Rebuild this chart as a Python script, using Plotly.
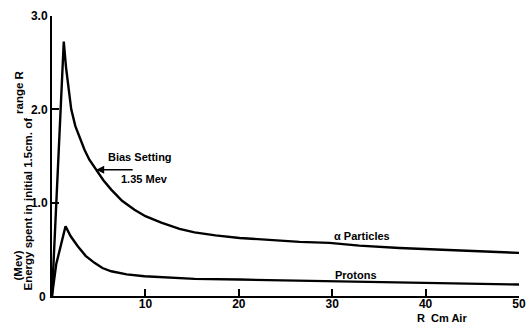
import plotly.graph_objects as go

# ---- data ----
alpha_x = [0, 1.26, 1.5, 1.75, 2.06, 2.5, 3.0, 3.48, 4.0, 4.73, 5.5, 6.34, 7.5, 8.83,
           10.0, 11.7, 13.65, 15.26, 17.5, 20.07, 23.0, 26.5, 29.7, 32.9, 37.2, 40.7, 44.7, 50]
alpha_y = [0, 2.725, 2.45, 2.22, 2.0, 1.82, 1.68, 1.567, 1.46, 1.353, 1.24, 1.14, 1.02, 0.925,
           0.855, 0.786, 0.719, 0.682, 0.65, 0.622, 0.60, 0.58, 0.569, 0.54, 0.515, 0.50, 0.479, 0.462]

proton_x = [0, 0.45, 1.45, 2.0, 2.76, 3.6, 4.55, 5.4, 6.34, 8.0, 9.9, 11.7, 13.65, 15.26,
            20.07, 26.5, 29.7, 35.0, 40.7, 44.7, 50]
proton_y = [0, 0.34, 0.747, 0.64, 0.533, 0.43, 0.355, 0.30, 0.265, 0.232, 0.212, 0.202, 0.195, 0.184,
            0.176, 0.166, 0.158, 0.15, 0.141, 0.138, 0.123]

x_ticks = [10, 20, 30, 40, 50]
x_tick_labels = ["10", "20", "30", "40", "50"]
y_ticks = [1, 2, 3]
y_tick_labels = ["1.0", "2.0", "3.0"]

bias_x = 4.73
bias_y = 1.353

FONT = "Liberation Sans"

fig = go.Figure()
fig.add_trace(go.Scatter(x=alpha_x, y=alpha_y, mode="lines",
                         line=dict(color="black", width=2.4), showlegend=False, hoverinfo="skip"))
fig.add_trace(go.Scatter(x=proton_x, y=proton_y, mode="lines",
                         line=dict(color="black", width=2.4), showlegend=False, hoverinfo="skip"))

tickfont = dict(family=FONT, size=12, color="black", weight="bold")
labfont = dict(family=FONT, size=11, color="black", weight="bold")

fig.update_layout(
    width=526, height=324,
    margin=dict(l=52, r=7, t=16, b=28, autoexpand=False),
    paper_bgcolor="white", plot_bgcolor="white",
    showlegend=False,
    xaxis=dict(range=[0, 50], showline=True, linewidth=2, linecolor="black", mirror=False,
               ticks="inside", ticklen=7, tickwidth=2, tickcolor="black",
               tickvals=x_ticks, ticktext=x_tick_labels, tickfont=tickfont, ticklabelstandoff=-4,
               ticklabeloverflow="allow",
               showgrid=False, zeroline=False, fixedrange=True, automargin=False),
    yaxis=dict(range=[0, 3], showline=True, linewidth=2, linecolor="black", mirror=False,
               ticks="inside", ticklen=7, tickwidth=2, tickcolor="black",
               tickvals=y_ticks, ticktext=y_tick_labels, tickfont=tickfont,
               ticklabeloverflow="allow",
               showgrid=False, zeroline=False, fixedrange=True, automargin=False),
)

ann = []
# origin label
ann.append(dict(xref="paper", yref="paper", x=-0.0193, y=-0.004, text="0", showarrow=False,
                xanchor="center", yanchor="middle", font=tickfont))
# y-axis title
ytfont = dict(family=FONT, size=11.5, color="black", weight="bold")
ann.append(dict(xref="paper", yref="paper", x=-0.0535, y=0.0107, text="Energy spent in initial 1.5cm. of",
                showarrow=False, textangle=-90, xanchor="center", yanchor="bottom", font=ytfont))
ann.append(dict(xref="paper", yref="paper", x=-0.0707, y=0.7286, text="range R",
                showarrow=False, textangle=-90, xanchor="center", yanchor="middle", font=ytfont))
ann.append(dict(xref="paper", yref="paper", x=-0.0728, y=0.109, text="(Mev)",
                showarrow=False, textangle=-90, xanchor="center", yanchor="middle", font=ytfont))
# x-axis title
ann.append(dict(xref="x", yref="paper", x=41.8, y=-0.0785, text="R  Cm Air", showarrow=False,
                xanchor="center", yanchor="middle", font=dict(family=FONT, size=11, color="black", weight="bold")))
# curve labels
ann.append(dict(xref="x", yref="y", x=33.2, y=0.647, text="α Particles", showarrow=False,
                xanchor="center", yanchor="middle", font=labfont))
ann.append(dict(xref="x", yref="y", x=32.5, y=0.23, text="Protons", showarrow=False,
                xanchor="center", yanchor="middle", font=labfont))
ann.append(dict(xref="x", yref="y", x=9.37, y=1.487, text="Bias Setting", showarrow=False,
                xanchor="center", yanchor="middle", font=labfont))
ann.append(dict(xref="x", yref="y", x=9.9, y=1.257, text="1.35 Mev", showarrow=False,
                xanchor="center", yanchor="middle", font=labfont))
# bias arrow
ann.append(dict(xref="x", yref="y", x=bias_x, y=bias_y, text="", showarrow=True,
                ax=38, ay=0, arrowhead=2, arrowsize=1, arrowwidth=1.6, arrowcolor="black",
                standoff=0))
fig.update_layout(annotations=ann)

fig.write_html("out.html", config={"displayModeBar": False},
               post_script="document.body.style.margin='0';document.body.style.overflow='hidden';")
